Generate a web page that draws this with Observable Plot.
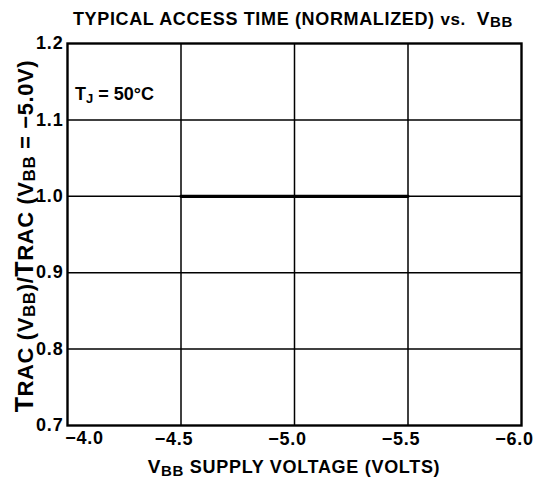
<!DOCTYPE html>
<html>
<head>
<meta charset="utf-8">
<script src="https://cdn.jsdelivr.net/npm/d3@7"></script>
<script src="https://cdn.jsdelivr.net/npm/@observablehq/plot@0.6"></script>
<style>
  html, body { margin: 0; padding: 0; background: #fff; }
  svg text { font-family: "Liberation Sans", Arial, Helvetica, sans-serif; }
  svg g[aria-label="x-axis tick label"] text,
  svg g[aria-label="y-axis tick label"] text { letter-spacing: 0.8px; }
</style>
</head>
<body>
<div id="chart"></div>
<script>
// Data
const xTicks = [-4.0, -4.5, -5.0, -5.5, -6.0];
const yTicks = [0.7, 0.8, 0.9, 1.0, 1.1, 1.2];
const vbb = [-4.5, -5.0, -5.5];
const accessTime = [1.0, 1.0, 1.0];
const data = vbb.map((v, i) => ({vbb: v, t: accessTime[i]}));

const FONT = "Liberation Sans, Arial, Helvetica, sans-serif";
const fmt = d3.format(".1f");

const plot = Plot.plot({
  width: 538,
  height: 478,
  marginLeft: 67,
  marginRight: 17,
  marginTop: 43,
  marginBottom: 53,
  style: {fontFamily: FONT, background: "#fff", color: "#000"},
  x: {domain: [-4.0, -6.0], ticks: xTicks},
  y: {domain: [0.7, 1.2], ticks: yTicks},
  marks: [
    Plot.ruleX(xTicks.slice(1, -1), {stroke: "#000", strokeWidth: 1.5}),
    Plot.ruleY(yTicks.slice(1, -1), {stroke: "#000", strokeWidth: 1.5}),
    Plot.frame({stroke: "#000", strokeWidth: 2.4}),
    Plot.line(data, {x: "vbb", y: "t", stroke: "#000", strokeWidth: 3.2}),
    Plot.axisX(xTicks.slice(0, 1), {tickSize: 0, tickPadding: 6, fontSize: 18, fontWeight: "bold", dx: 17, tickFormat: fmt, label: null}),
    Plot.axisX(xTicks.slice(1), {tickSize: 0, tickPadding: 7, fontSize: 18, fontWeight: "bold", dx: -7, tickFormat: fmt, label: null}),
    Plot.axisY(yTicks, {tickSize: 0, tickPadding: 4, fontSize: 18, fontWeight: "bold", tickFormat: fmt, label: null})
  ]
});

document.getElementById("chart").appendChild(plot);

const svg = d3.select(plot);

// Title
const title = svg.append("text")
  .attr("x", 293).attr("y", 25)
  .attr("text-anchor", "middle")
  .attr("letter-spacing", 0.65)
  .attr("font-size", 18).attr("font-weight", "bold").attr("fill", "#000");
title.append("tspan").text("TYPICAL ACCESS TIME (NORMALIZED) ");
title.append("tspan").attr("font-size", 17).text("vs.  ");
title.append("tspan").attr("font-size", 19).text("V");
title.append("tspan").attr("font-size", 15).attr("dy", 2).text("BB");

// Y label
const yl = svg.append("text")
  .attr("transform", "translate(33,236) rotate(-90)")
  .attr("text-anchor", "middle")
  .attr("letter-spacing", 0.6)
  .attr("font-size", 22).attr("font-weight", "bold").attr("fill", "#000");
yl.append("tspan").attr("font-size", 25).text("T");
yl.append("tspan").text("RAC (V");
yl.append("tspan").attr("font-size", 17).attr("dy", 2).text("BB");
yl.append("tspan").attr("dy", -2).text(")/");
yl.append("tspan").attr("font-size", 25).text("T");
yl.append("tspan").text("RAC (V");
yl.append("tspan").attr("font-size", 17).attr("dy", 2).text("BB");
yl.append("tspan").attr("dy", -2).text(" = \u22125.0V)");

// X label
const xl = svg.append("text")
  .attr("x", 294).attr("y", 473)
  .attr("text-anchor", "middle")
  .attr("letter-spacing", 0.7)
  .attr("font-size", 18).attr("font-weight", "bold").attr("fill", "#000");
xl.append("tspan").attr("font-size", 19).text("V");
xl.append("tspan").attr("font-size", 15).attr("dy", 3).text("BB");
xl.append("tspan").attr("dy", -3).text(" SUPPLY VOLTAGE (VOLTS)");

// Annotation
const an = svg.append("text")
  .attr("x", 75).attr("y", 100)
  .attr("text-anchor", "start")
  .attr("font-size", 18).attr("font-weight", "bold").attr("fill", "#000");
an.append("tspan").text("T");
an.append("tspan").attr("font-size", 13).attr("dy", 3).text("J");
an.append("tspan").attr("dy", -3).text(" = 50\u00B0C");
</script>
</body>
</html>
